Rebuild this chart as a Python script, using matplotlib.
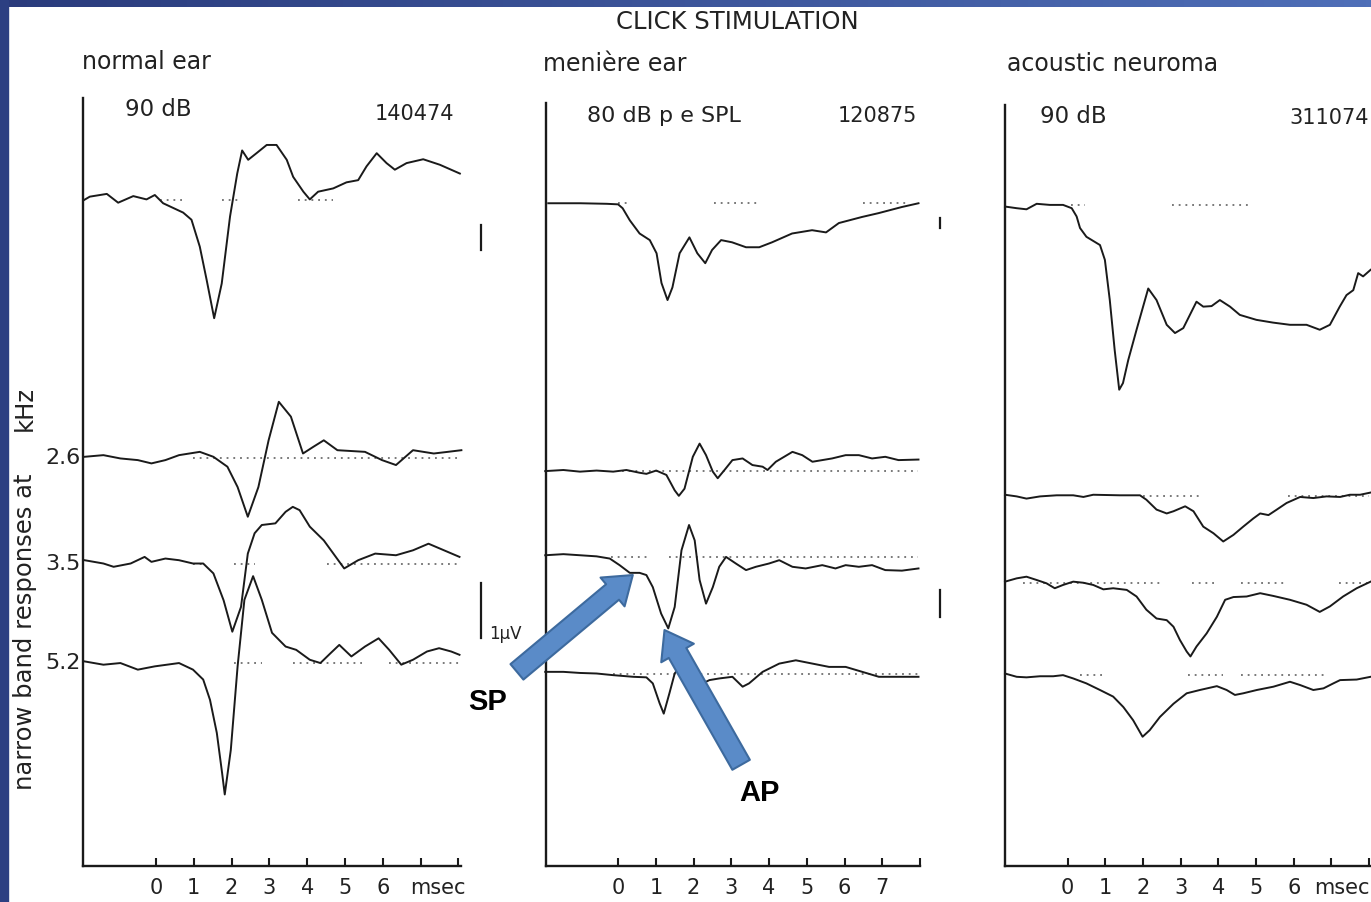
import numpy as np
import matplotlib
matplotlib.use('Agg')
import matplotlib.pyplot as plt
from matplotlib.colors import LinearSegmentedColormap
from matplotlib.patches import Rectangle

# time in msec, amplitude in uV relative to the trace baseline

# --- normal ear ---
normal_click_t = [-1.90, -1.75, -1.30, -1.00, -0.60, -0.25, -0.03, 0.19, 0.72, 0.94,
                  1.16, 1.34, 1.54, 1.74, 1.96, 2.15, 2.28, 2.44, 2.66, 2.93,
                  3.19, 3.46, 3.63, 3.90, 4.07, 4.29, 4.69, 5.04, 5.35, 5.57,
                  5.84, 6.10, 6.32, 6.63, 7.07, 7.51, 8.04]
normal_click_v = [0, 0.06, 0.11, -0.05, 0.07, 0.01, 0.09, -0.06, -0.23, -0.36,
                  -0.85, -1.45, -2.15, -1.52, -0.30, 0.48, 0.90, 0.73, 0.85, 1.0,
                  1.0, 0.73, 0.42, 0.15, 0.01, 0.15, 0.21, 0.32, 0.36, 0.61,
                  0.85, 0.67, 0.55, 0.67, 0.74, 0.64, 0.48]
normal_26_t = [-1.89, -1.39, -0.94, -0.48, -0.12, 0.25, 0.61, 1.16, 1.52, 1.89, 2.16,
               2.43, 2.71, 2.98, 3.25, 3.57, 3.89, 4.16, 4.44, 4.80, 5.53, 5.98,
               6.35, 6.80, 7.35, 7.72, 8.08]
normal_26_v = [0.03, 0.06, 0, -0.03, -0.09, -0.03, 0.06, 0.12, 0.03, -0.15, -0.52,
               -1.06, -0.52, 0.33, 1.03, 0.76, 0.09, 0.21, 0.33, 0.15, 0.12, -0.03,
               -0.12, 0.15, 0.09, 0.12, 0.15]
normal_35_t = [-1.89, -1.39, -1.12, -0.67, -0.30, -0.12, 0.25, 0.61, 0.98, 1.25, 1.52,
               1.79, 2.02, 2.25, 2.43, 2.61, 2.80, 3.16, 3.43, 3.62, 3.80, 4.07,
               4.44, 4.98, 5.35, 5.80, 6.35, 6.80, 7.21, 7.62, 8.03]
normal_35_v = [0.06, 0, -0.06, 0, 0.12, 0.03, 0.09, 0.06, 0, 0, -0.18,
               -0.67, -1.24, -0.79, 0.18, 0.55, 0.70, 0.73, 0.94, 1.03, 0.97, 0.67,
               0.42, -0.09, 0.06, 0.18, 0.15, 0.24, 0.36, 0.24, 0.12]
normal_52_t = [-1.89, -1.39, -0.94, -0.48, -0.03, 0.61, 0.98, 1.25, 1.43, 1.61, 1.75,
               1.82, 1.98, 2.16, 2.34, 2.57, 2.80, 3.07, 3.43, 3.71, 4.07, 4.35,
               4.62, 4.85, 5.17, 5.53, 5.89, 6.17, 6.49, 6.80, 7.17, 7.49, 7.81, 8.03]
normal_52_v = [0.03, -0.03, 0, -0.12, -0.06, 0, -0.12, -0.30, -0.67, -1.27, -2.0,
               -2.39, -1.58, -0.06, 1.15, 1.58, 1.15, 0.55, 0.30, 0.24, 0.06, 0,
               0.18, 0.33, 0.12, 0.30, 0.45, 0.24, -0.03, 0.06, 0.21, 0.27, 0.21, 0.15]

# --- meniere ear ---
meniere_click_t = [-1.85, -1.0, -0.3, 0, 0.12, 0.31, 0.57, 0.84, 1.02, 1.15,
                   1.31, 1.44, 1.63, 1.89, 2.10, 2.31, 2.49, 2.73, 3.02, 3.39,
                   3.74, 4.08, 4.61, 5.14, 5.51, 5.85, 6.46, 6.90, 7.51, 7.96]
meniere_click_v = [0, 0, -0.01, -0.02, -0.09, -0.31, -0.55, -0.67, -0.91, -1.45,
                   -1.76, -1.53, -0.91, -0.62, -0.91, -1.09, -0.85, -0.67, -0.71, -0.80,
                   -0.80, -0.71, -0.55, -0.49, -0.53, -0.36, -0.25, -0.18, -0.07, 0]
meniere_26_t = [-1.93, -1.45, -1.01, -0.57, -0.13, 0.22, 0.57, 0.75, 1.01, 1.28,
                1.50, 1.61, 1.76, 1.98, 2.16, 2.33, 2.51, 2.64, 2.82, 3.03,
                3.30, 3.56, 3.83, 3.96, 4.18, 4.62, 4.88, 5.15, 5.41, 5.67,
                6.03, 6.38, 6.73, 7.08, 7.43, 7.96]
meniere_26_v = [0, 0.02, -0.01, 0.01, -0.01, 0.02, -0.03, -0.05, 0.01, -0.07,
                -0.35, -0.45, -0.32, 0.26, 0.50, 0.29, -0.01, -0.13, 0.02, 0.2,
                0.23, 0.11, 0.08, 0.02, 0.17, 0.35, 0.29, 0.17, 0.2, 0.23,
                0.29, 0.29, 0.23, 0.26, 0.2, 0.21]
meniere_35_t = [-1.93, -1.45, -1.01, -0.57, -0.22, 0.04, 0.31, 0.57, 0.75, 0.92,
                1.14, 1.33, 1.50, 1.68, 1.88, 2.03, 2.16, 2.33, 2.51, 2.68,
                2.86, 3.12, 3.39, 3.65, 4.00, 4.27, 4.62, 4.97, 5.41, 5.76,
                6.03, 6.38, 6.73, 7.08, 7.52, 7.96]
meniere_35_v = [0.03, 0.05, 0.03, 0.01, -0.03, -0.15, -0.29, -0.29, -0.33, -0.55,
                -1.03, -1.30, -0.91, 0.12, 0.58, 0.30, -0.42, -0.85, -0.55, -0.18,
                0, -0.12, -0.24, -0.18, -0.12, -0.06, -0.18, -0.21, -0.15, -0.21,
                -0.15, -0.18, -0.15, -0.24, -0.25, -0.21]
meniere_52_t = [-1.93, -1.45, -1.01, -0.57, -0.13, 0.40, 0.75, 0.92, 1.10, 1.21,
                1.36, 1.50, 1.63, 1.80, 2.07, 2.42, 2.68, 3.03, 3.30, 3.47,
                3.83, 4.27, 4.71, 5.15, 5.59, 6.03, 6.47, 6.91, 7.43, 7.96]
meniere_52_v = [0.04, 0.04, 0.02, 0.01, -0.02, -0.05, -0.06, -0.17, -0.53, -0.72,
                -0.35, 0.01, 0.13, -0.08, -0.23, -0.11, -0.08, -0.05, -0.23, -0.17,
                0.04, 0.19, 0.25, 0.19, 0.13, 0.13, 0.04, -0.05, -0.05, -0.05]

# --- acoustic neuroma ---
acoustic_click_t = [-1.66, -1.35, -1.09, -0.82, -0.47, -0.12, 0.11, 0.24, 0.33, 0.50,
                    0.86, 0.99, 1.12, 1.25, 1.37, 1.47, 1.61, 1.83, 2.14, 2.36,
                    2.63, 2.85, 3.07, 3.42, 3.60, 3.82, 4.04, 4.31, 4.57, 5.01,
                    5.45, 5.90, 6.34, 6.69, 6.96, 7.22, 7.40, 7.58, 7.71, 7.84, 8.04]
acoustic_click_v = [-0.03, -0.06, -0.08, 0.02, 0, 0, -0.06, -0.21, -0.42, -0.58,
                    -0.73, -1.0, -1.73, -2.64, -3.36, -3.24, -2.82, -2.27, -1.52, -1.73,
                    -2.18, -2.33, -2.24, -1.76, -1.85, -1.84, -1.73, -1.85, -2.0, -2.09,
                    -2.14, -2.18, -2.18, -2.27, -2.18, -1.85, -1.64, -1.55, -1.24, -1.30, -1.18]
acoustic_26_t = [-1.66, -1.35, -1.09, -0.73, -0.29, 0.15, 0.42, 0.68, 1.39, 1.92,
                 2.09, 2.36, 2.63, 2.81, 3.12, 3.34, 3.60, 3.87, 4.13, 4.40,
                 4.66, 4.93, 5.11, 5.33, 5.55, 5.81, 6.17, 6.52, 6.87, 7.23,
                 7.49, 7.76, 8.04]
acoustic_26_v = [0.02, -0.01, -0.05, -0.01, 0.01, 0.01, -0.02, 0.02, 0.01, 0.01,
                 -0.07, -0.25, -0.32, -0.28, -0.19, -0.28, -0.56, -0.68, -0.83, -0.71,
                 -0.56, -0.41, -0.32, -0.35, -0.25, -0.13, -0.02, -0.04, -0.01, -0.02,
                 0.02, 0.02, 0.06]
acoustic_35_t = [-1.66, -1.35, -1.09, -0.82, -0.56, -0.34, -0.12, 0.15, 0.42, 0.68,
                 0.95, 1.21, 1.57, 1.83, 2.09, 2.36, 2.63, 2.81, 2.98, 3.16,
                 3.26, 3.42, 3.69, 3.96, 4.18, 4.40, 4.75, 5.11, 5.46, 5.90,
                 6.34, 6.69, 6.96, 7.31, 7.67, 8.04]
acoustic_35_v = [0.03, 0.09, 0.12, 0.06, 0, -0.09, -0.03, 0.03, 0.01, -0.03,
                 -0.11, -0.09, -0.12, -0.24, -0.48, -0.64, -0.67, -0.79, -1.03, -1.24,
                 -1.33, -1.15, -0.91, -0.61, -0.30, -0.25, -0.24, -0.18, -0.23, -0.30,
                 -0.39, -0.52, -0.42, -0.24, -0.09, 0.03]
acoustic_52_t = [-1.66, -1.35, -1.09, -0.73, -0.38, -0.12, 0.15, 0.50, 0.86, 1.21,
                 1.48, 1.74, 1.99, 2.18, 2.45, 2.81, 3.16, 3.51, 3.96, 4.22,
                 4.44, 4.66, 5.02, 5.46, 5.90, 6.17, 6.52, 6.79, 7.05, 7.23,
                 7.67, 8.04]
acoustic_52_v = [0.03, -0.03, -0.04, -0.02, -0.02, 0, -0.06, -0.15, -0.27, -0.39,
                 -0.58, -0.82, -1.12, -1.0, -0.76, -0.52, -0.33, -0.27, -0.20, -0.27,
                 -0.36, -0.33, -0.27, -0.21, -0.12, -0.18, -0.27, -0.24, -0.15, -0.09,
                 -0.08, -0.03]

# dotted reference baselines (msec ranges) for each trace
normal_dots = [[(0.1, 0.72), (1.74, 2.22), (3.76, 4.69)],
               [(0.98, 8.07)],
               [(0.98, 1.25), (2.07, 2.61), (4.53, 8.07)],
               [(2.07, 2.80), (3.62, 5.44), (6.17, 8.07)]]
meniere_dots = [[(0.0, 0.26), (2.55, 3.79), (6.5, 7.7)],
                [(0.1, 7.96)],
                [(-0.2, 0.86), (1.34, 7.96)],
                [(-0.13, 7.96)]]
acoustic_dots = [[(0.1, 0.45), (2.76, 4.88)],
                 [(2.0, 3.51), (5.85, 8.0)],
                 [(-1.18, 2.45), (3.3, 3.9), (4.6, 5.8), (7.2, 8.0)],
                 [(0.33, 1.03), (3.2, 4.13), (4.6, 6.9)]]

freq_labels = ['2.6', '3.5', '5.2']
ms_ticks = [0, 1, 2, 3, 4, 5, 6, 7, 8]

W, H = 1371, 902
INK = '#222222'
plt.rcParams['font.family'] = ['DejaVu Sans']

fig = plt.figure(figsize=(W / 100, H / 100), dpi=100)
fig.patch.set_facecolor('white')


def px_axes(left, right, top=95, bottom=866):
    return fig.add_axes([left / W, 1 - bottom / H, (right - left) / W, (bottom - top) / H])


def draw_panel(ax, traces, offsets, dots, xlim, spine_top, labels):
    ax.set_xlim(*xlim)
    ax.set_ylim(0, 771 / 55)
    for (t, v), off, segs in zip(traces, offsets, dots):
        for a, b in segs:
            ax.plot([a, b], [off, off], color='#555555', lw=1.1, ls=(0, (1.2, 3.2)), clip_on=False)
        ax.plot(t, np.array(v) + off, color='#1a1a1a', lw=1.4, clip_on=False)
    for s in ['top', 'right']:
        ax.spines[s].set_visible(False)
    ax.spines['left'].set_bounds(0, spine_top)
    for s in ['left', 'bottom']:
        ax.spines[s].set_linewidth(1.7)
        ax.spines[s].set_color('#1a1a1a')
    ax.set_yticks([])
    ax.set_xticks(ms_ticks)
    ax.set_xticklabels(labels, fontsize=15, color=INK)
    ax.tick_params(axis='x', direction='in', length=6, width=1.5, color='#1a1a1a', pad=9)
    ax.patch.set_alpha(0)


ax1 = px_axes(83, 461)
draw_panel(ax1,
           [(normal_click_t, normal_click_v), (normal_26_t, normal_26_v),
            (normal_35_t, normal_35_v), (normal_52_t, normal_52_v)],
           [12.11, 7.41, 5.50, 3.69], normal_dots, (-1.93, 8.07), 13.96,
           ['0', '1', '2', '3', '4', '5', '6', '', ''])

ax2 = px_axes(546, 920)
draw_panel(ax2,
           [(meniere_click_t, meniere_click_v), (meniere_26_t, meniere_26_v),
            (meniere_35_t, meniere_35_v), (meniere_52_t, meniere_52_v)],
           [12.05, 7.18, 5.62, 3.49], meniere_dots, (-1.91, 7.96), 13.87,
           ['0', '1', '2', '3', '4', '5', '6', '7', ''])

ax3 = px_axes(1005, 1371)
draw_panel(ax3,
           [(acoustic_click_t, acoustic_click_v), (acoustic_26_t, acoustic_26_v),
            (acoustic_35_t, acoustic_35_v), (acoustic_52_t, acoustic_52_v)],
           [12.02, 6.73, 5.14, 3.47], acoustic_dots, (-1.66, 8.05), 13.84,
           ['0', '1', '2', '3', '4', '5', '6', '', ''])

ax1.annotate('msec', xy=(7.45, 0), xycoords=('data', 'axes fraction'),
             xytext=(0, -22), textcoords='offset pixels',
             ha='center', va='center', fontsize=15, color=INK, annotation_clip=False)
ax3.annotate('msec', xy=(1, 0), xycoords='axes fraction',
             xytext=(-1, -22), textcoords='offset pixels',
             ha='right', va='center', fontsize=15, color=INK, annotation_clip=False)

# frequency labels on the left panel
for lab, off in zip(freq_labels, [7.41, 5.50, 3.69]):
    ax1.annotate(lab, xy=(0, off), xycoords=('axes fraction', 'data'),
                 xytext=(-2, 0), textcoords='offset pixels',
                 ha='right', va='center', fontsize=16, color=INK, annotation_clip=False)

# scale bars
ax1.plot([8.6, 8.6], [11.2, 11.65], color='#1a1a1a', lw=1.6, clip_on=False)
ax1.plot([8.6, 8.6], [4.15, 5.15], color='#1a1a1a', lw=1.6, clip_on=False)
ax1.text(8.82, 4.22, '1μV', fontsize=12, color=INK, ha='left', va='center')
ax2.plot([8.53, 8.53], [11.6, 11.78], color='#1a1a1a', lw=1.6, clip_on=False)
ax2.plot([8.53, 8.53], [4.53, 5.02], color='#1a1a1a', lw=1.6, clip_on=False)

# SP / AP arrows
arrow_kw = dict(arrowstyle='simple,head_length=1.9,head_width=2.7,tail_width=1.45',
                mutation_scale=10, fc='#5a8bc8', ec='#3d6a9e', lw=1.5,
                shrinkA=0, shrinkB=0)
ax2.annotate('', xy=(0.39, 5.29), xytext=(-2.68, 3.53), arrowprops=arrow_kw,
             annotation_clip=False)
ax2.annotate('', xy=(1.23, 4.29), xytext=(3.26, 1.84), arrowprops=arrow_kw,
             annotation_clip=False)
ax2.text(-3.46, 2.98, 'SP', fontsize=21, fontweight='bold', family='Liberation Sans',
         ha='center', va='center', color='black')
ax2.text(3.74, 1.33, 'AP', fontsize=21, fontweight='bold', family='Liberation Sans',
         ha='center', va='center', color='black')


# titles and annotations
def ftext(x, y, s, size=16, ha='left', **kw):
    fig.text(x / W, 1 - y / H, s, fontsize=size, ha=ha, va='center', color=INK, **kw)


ftext(737, 22, 'CLICK STIMULATION', size=17.5, ha='center')
ftext(82, 62, 'normal ear', size=17)
ftext(543, 64, 'menière ear', size=17)
ftext(1007, 64, 'acoustic neuroma', size=17)
ftext(125, 110, '90 dB', size=16.5)
ftext(375, 114, '140474', size=15)
ftext(587, 116, '80 dB p e SPL')
ftext(838, 116, '120875', size=15)
ftext(1040, 117, '90 dB', size=16.5)
ftext(1369, 118, '311074', size=15, ha='right')
ftext(25, 632, 'narrow band responses at', size=17.5, ha='center', rotation=90)
ftext(25, 408, 'kHz', size=17.5, ha='center', rotation=90)

# blue slide frame
frame_cmap = LinearSegmentedColormap.from_list('frame', ['#2a3b7c', '#4f6fb8'])
ax_top = fig.add_axes([0, 1 - 7 / H, 1, 7 / H])
ax_top.imshow(np.linspace(0, 1, 256)[None, :], cmap=frame_cmap, aspect='auto')
ax_top.axis('off')
fig.add_artist(Rectangle((0, 0), 8 / W, 1, transform=fig.transFigure,
                         color='#2c3f82', zorder=10))

fig.savefig('out.png', dpi=100)
